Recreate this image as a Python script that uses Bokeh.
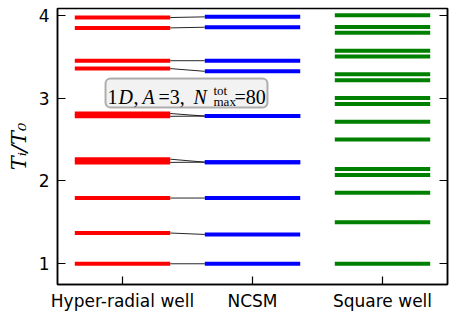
from bokeh.plotting import figure
from bokeh.models import (FixedTicker, LinearAxis, Range1d, Label, BoxAnnotation,
                          CustomJSTickFormatter)
from bokeh.embed import file_html
from bokeh.resources import INLINE

categories = ["Hyper-radial well", "NCSM", "Square well"]
hyper = [1.000, 1.371, 1.793, 2.223, 2.262, 2.779, 2.813, 3.355, 3.450, 3.846, 3.971]
ncsm = [1.000, 1.354, 1.793, 2.226, 2.226, 2.782, 2.782, 3.322, 3.450, 3.854, 3.979]
square = [1.000, 1.500, 1.857, 2.071, 2.143, 2.500, 2.714, 2.929, 3.000,
          3.214, 3.286, 3.500, 3.571, 3.786, 3.857, 4.000]
yticks = [1, 2, 3, 4]
colors = ["#ff0000", "#0000ff", "#008000"]
HW = 0.367

p = figure(width=454, height=315,
           x_range=Range1d(0.5, 3.5), y_range=Range1d(0.75, 4.08),
           output_backend="svg", toolbar_location=None,
           min_border_left=57, min_border_right=7, min_border_top=8,
           min_border_bottom=31)
p.grid.visible = False
p.outline_line_color = "black"
p.outline_line_width = 1.5
p.background_fill_color = "white"

# connectors between hyper-radial and NCSM levels
p.segment(x0=[1 + HW] * len(hyper), x1=[2 - HW] * len(ncsm), y0=hyper, y1=ncsm,
          line_color="black", line_width=1, line_alpha=0.85)

for i, levels in enumerate([hyper, ncsm, square]):
    pos = i + 1
    p.segment(x0=[pos - HW] * len(levels), x1=[pos + HW] * len(levels),
              y0=levels, y1=levels, line_color=colors[i], line_width=4)

# axes
xa = p.xaxis[0]
xa.ticker = FixedTicker(ticks=[1, 2, 3])
xa.major_label_overrides = {i + 1: c for i, c in enumerate(categories)}
ya = p.yaxis[0]
ya.ticker = FixedTicker(ticks=yticks)
ya.axis_label = "Tᵢ/T₀"
ya.axis_label_text_font = "DejaVu Serif"
ya.axis_label_text_font_style = "italic"
ya.axis_label_text_font_size = "21px"
ya.axis_label_text_color = "black"
ya.axis_label_standoff = 5
for ax in (xa, ya):
    ax.major_tick_in = 8
    ax.major_tick_out = 0
    ax.minor_tick_in = 0
    ax.minor_tick_out = 0
    ax.axis_line_width = 1.5
    ax.axis_line_color = "black"
    ax.major_tick_line_color = "black"
    ax.major_tick_line_width = 1.2
    ax.major_label_text_font = "DejaVu Sans"
    ax.major_label_text_font_size = "17px"
    ax.major_label_text_color = "black"
xa.major_label_standoff = 6
ya.major_label_standoff = 8

ra = LinearAxis(ticker=FixedTicker(ticks=yticks),
                formatter=CustomJSTickFormatter(code="return ''"))
ra.major_tick_in = 8
ra.major_tick_out = 0
ra.minor_tick_in = 0
ra.minor_tick_out = 0
ra.axis_line_width = 1.5
ra.axis_line_color = "black"
ra.major_tick_line_color = "black"
ra.major_tick_line_width = 1.2
ra.major_label_standoff = 0
p.add_layout(ra, "right")

# annotation box
def xd(px):
    return 0.5 + (px - 65) / 130.0

def yd(px):
    return 1 + (271 - px) / 82.8

box = BoxAnnotation(left=xd(113), right=xd(275), top=yd(86), bottom=yd(115),
                    fill_color="#f2f2f2", fill_alpha=1, line_color="black",
                    line_width=2, border_radius=5)
p.add_layout(box)

pieces = [
    ("1", 115, 104.7, "normal", "20px"),
    ("D", 126, 104.7, "italic", "20px"),
    (",", 141, 104.7, "normal", "20px"),
    ("A", 150, 104.7, "italic", "20px"),
    ("=3,", 166, 104.7, "normal", "20px"),
    ("N", 201, 104.7, "italic", "20px"),
    ("tot", 221, 98, "normal", "13px"),
    ("max", 221, 108.5, "normal", "13px"),
    ("=80", 242, 104.7, "normal", "20px"),
]
for t, px, py, style, size in pieces:
    p.add_layout(Label(x=xd(px), y=yd(py), text=t, text_font="Liberation Serif",
                       text_font_style=style, text_font_size=size,
                       text_baseline="alphabetic", text_align="left",
                       text_color="black"))

open("out.html", "w").write(file_html(p, INLINE))
